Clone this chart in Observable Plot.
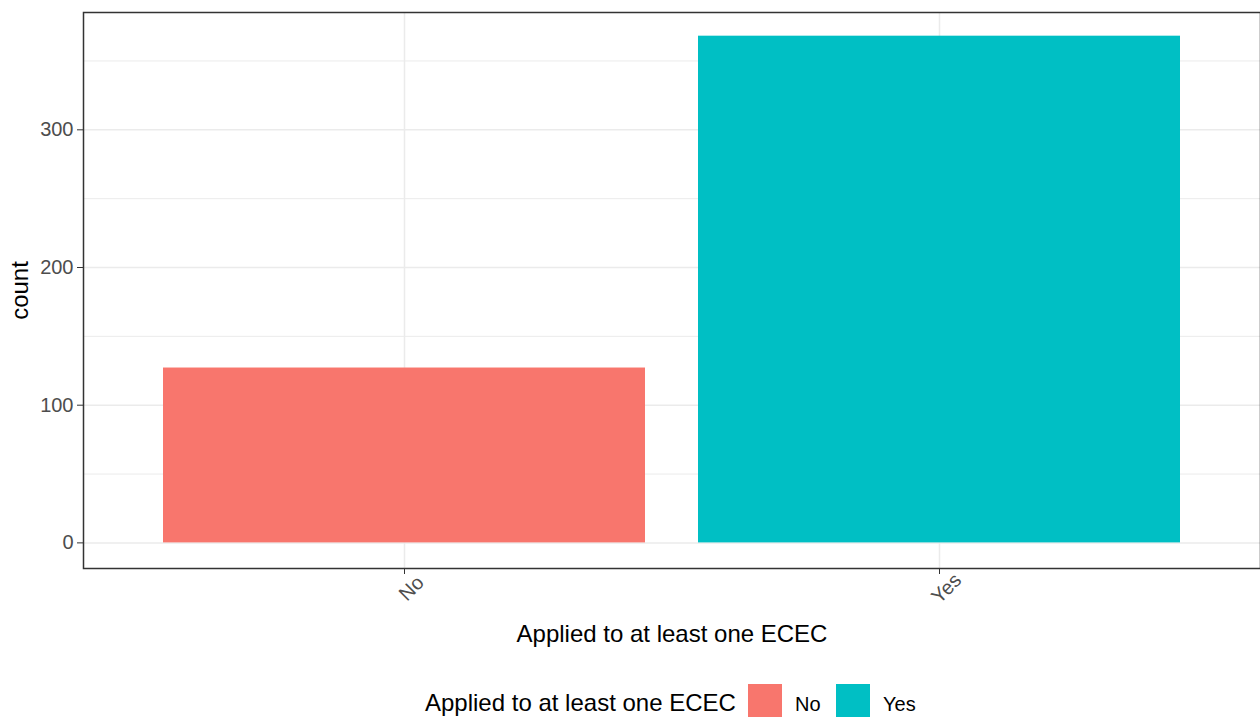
<!DOCTYPE html>
<html>
<head>
<meta charset="utf-8">
<script src="https://cdn.jsdelivr.net/npm/d3@7"></script>
<script src="https://cdn.jsdelivr.net/npm/@observablehq/plot@0.6"></script>
<style>
  html, body { margin: 0; padding: 0; background: #fff; }
  body { font-family: "Liberation Sans", Arial, sans-serif; width: 1260px; height: 717px; overflow: hidden; position: relative; }
  #chart svg { display: block; }
  #legend { position: absolute; left: 0; top: 684px; height: 34px; width: 1260px; }
  #legend .title { position: absolute; left: 425px; top: 0; height: 34px; line-height: 38px; font-size: 24px; color: #000; white-space: nowrap; }
  #legend .key { position: absolute; top: 0; width: 34px; height: 34px; }
  #legend .lab { position: absolute; top: 0; height: 34px; line-height: 40px; font-size: 20px; color: #000; white-space: nowrap; }
</style>
</head>
<body>
<div id="chart"></div>
<div id="legend"></div>
<script>
const categories = ["No", "Yes"];
const counts = [127, 368];
const colors = ["#F8766D", "#00BFC4"];
const yTicks = [0, 100, 200, 300];
const yMinorTicks = [50, 150, 250, 350];
const yDomain = [-18.6, 385.2];
const xTitle = "Applied to at least one ECEC";
const yTitle = "count";
const legendTitle = "Applied to at least one ECEC";

const data = categories.map((c, i) => ({answer: c, count: counts[i]}));

const chart = Plot.plot({
  width: 1260,
  height: 680,
  marginLeft: 83,
  marginRight: 0,
  marginTop: 12,
  marginBottom: 112,
  style: {fontFamily: "'Liberation Sans', Arial, sans-serif", background: "#fff"},
  x: {type: "band", domain: categories, paddingInner: 0.1, paddingOuter: 0.15, axis: null},
  y: {domain: yDomain, axis: null},
  color: {domain: categories, range: colors},
  marks: [
    Plot.gridY(yMinorTicks, {stroke: "#ebebeb", strokeOpacity: 1, strokeWidth: 1}),
    Plot.gridY(yTicks, {stroke: "#ebebeb", strokeOpacity: 1, strokeWidth: 1.5}),
    Plot.gridX(categories, {stroke: "#ebebeb", strokeOpacity: 1, strokeWidth: 1.5}),
    Plot.barY(data, {x: "answer", y: "count", fill: "answer"}),
    Plot.frame({stroke: "#333333", strokeWidth: 1.5}),
    Plot.axisY(yTicks, {tickSize: 6, tickPadding: 4, fontSize: 20, stroke: "#333333", fill: "#4d4d4d", label: null}),
    Plot.axisX(categories, {tickSize: 6, stroke: "#333333", tickFormat: () => "", label: null}),
    Plot.text(categories, {x: d => d, frameAnchor: "bottom", dx: 7, dy: 20, rotate: -45, textAnchor: "middle", lineAnchor: "middle", fontSize: 20, fill: "#4d4d4d"}),
    Plot.text([xTitle], {frameAnchor: "bottom", dy: 66, lineAnchor: "middle", fontSize: 24, fill: "#000"}),
    Plot.text([yTitle], {frameAnchor: "left", dx: -63, rotate: -90, lineAnchor: "middle", textAnchor: "middle", fontSize: 24, fill: "#000"})
  ]
});
document.getElementById("chart").appendChild(chart);

// Legend (below the SVG)
const legend = document.getElementById("legend");
const t = document.createElement("div");
t.className = "title";
t.textContent = legendTitle;
legend.appendChild(t);
const keyLefts = [748, 836];
categories.forEach((c, i) => {
  const k = document.createElement("div");
  k.className = "key";
  k.style.left = keyLefts[i] + "px";
  k.style.background = colors[i];
  legend.appendChild(k);
  const l = document.createElement("div");
  l.className = "lab";
  l.style.left = (keyLefts[i] + 47) + "px";
  l.textContent = c;
  legend.appendChild(l);
});
</script>
</body>
</html>
